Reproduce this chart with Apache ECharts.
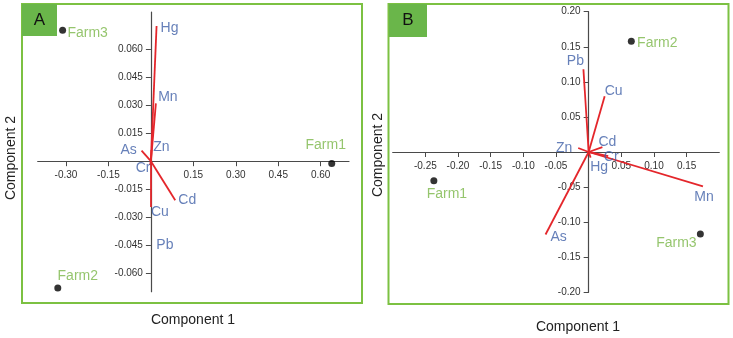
<!DOCTYPE html>
<html><head><meta charset="utf-8">
<script src="https://cdn.jsdelivr.net/npm/echarts@6/dist/echarts.min.js"></script>
<style>html,body{margin:0;padding:0;background:#fff}#c{width:733px;height:338px}</style>
</head><body><div id="c"></div>
<script>
// ---- Data ----
const farmNames = ['Farm1', 'Farm2', 'Farm3'];
// Panel A scores
const farmA_x = [0.639, -0.329, -0.312];
const farmA_y = [-0.0013, -0.068, 0.0702];
// Panel A loadings
const elemA = ['Hg', 'Mn', 'Zn', 'As', 'Cr', 'Cd', 'Cu', 'Pb'];
const loadA_x = [0.020, 0.0176, 0.002, -0.033, -0.003, 0.086, 0.000, 0.000];
const loadA_y = [0.0725, 0.031, 0.006, 0.0057, -0.002, -0.021, -0.0246, -0.001];
// Panel B scores
const farmB_x = [-0.237, 0.0653, 0.171];
const farmB_y = [-0.041, 0.158, -0.117];
// Panel B loadings
const elemB = ['Pb', 'Cu', 'Mn', 'As', 'Zn', 'Cd', 'Cr', 'Hg'];
const loadB_x = [-0.008, 0.0245, 0.175, -0.066, -0.016, 0.021, 0.030, 0.003];
const loadB_y = [0.118, 0.0796, -0.049, -0.1176, 0.0057, 0.007, -0.006, -0.008];
// Tick labels
const ticksA_x = [-0.30, -0.15, 0.15, 0.30, 0.45, 0.60];
const ticksA_y = [-0.060, -0.045, -0.030, -0.015, 0.015, 0.030, 0.045, 0.060];
const ticksB_x = [-0.25, -0.20, -0.15, -0.10, -0.05, 0.05, 0.10, 0.15];
const ticksB_y = [-0.20, -0.15, -0.10, -0.05, 0.05, 0.10, 0.15, 0.20];

// ---- Styles (label offsets in px) ----
const offA_elem = {Hg:[13,2], Mn:[12,-6], Zn:[10,-3], As:[-13,0], Cr:[-7,3], Cd:[12,0], Cu:[9,5], Pb:[14,82]};
const offA_farm = {Farm1:[-6,-18], Farm2:[20,-12], Farm3:[25,3]};
const offB_elem = {Pb:[-8,-8], Cu:[9,-5], Mn:[1,11], As:[13,3], Zn:[-14,0], Cd:[5,-4.5], Cr:[3,1], Hg:[8.5,10]};
const offB_farm = {Farm1:[13,13], Farm2:[26,2], Farm3:[-24,9]};

const RED = '#e4262b', BLUE = '#4060a8', GREEN = '#7ab648', AX = '#4a4a4a';
const FONT = 'Liberation Sans, Arial, sans-serif';

const grids = [
  {left: 37.7, top: 12, width: 311.3, height: 279.7},
  {left: 392.7, top: 11.7, width: 326.6, height: 280.6}
];
const ranges = [
  {xmin: -0.40, xmax: 0.70, ymin: -0.07, ymax: 0.08},
  {xmin: -0.30, xmax: 0.20, ymin: -0.20, ymax: 0.20}
];

function xAxis(gi, ticks, dec) {
  const r = ranges[gi], g = grids[gi];
  // move the bottom axis up to the y = 0 line
  const off = -g.height * (0 - r.ymin) / (r.ymax - r.ymin);
  return {
    type: 'value', gridIndex: gi, min: r.xmin, max: r.xmax, position: 'bottom', offset: off,
    axisLine: {onZero: false, lineStyle: {color: AX, width: 1.2}},
    axisTick: {show: true, length: 5, customValues: ticks, lineStyle: {color: AX}},
    axisLabel: {customValues: ticks, margin: 9, fontSize: 10, fontFamily: FONT, color: '#333',
      formatter: v => v.toFixed(dec)},
    splitLine: {show: false}
  };
}
function yAxis(gi, ticks, dec) {
  const r = ranges[gi], g = grids[gi];
  // move the left axis right to the x = 0 line
  const off = -g.width * (0 - r.xmin) / (r.xmax - r.xmin);
  return {
    type: 'value', gridIndex: gi, min: r.ymin, max: r.ymax, position: 'left', offset: off,
    axisLine: {onZero: false, lineStyle: {color: AX, width: 1.2}},
    axisTick: {show: true, length: 5, customValues: ticks, lineStyle: {color: AX}},
    axisLabel: {customValues: ticks, margin: 8, fontSize: 10, fontFamily: FONT, color: '#333',
      formatter: v => v.toFixed(dec)},
    splitLine: {show: false}
  };
}
function vectors(idx, names, xs, ys) {
  return {
    type: 'lines', coordinateSystem: 'cartesian2d', xAxisIndex: idx, yAxisIndex: idx,
    lineStyle: {color: RED, width: 1.8, opacity: 1}, z: 3, silent: true,
    data: names.map((n, i) => ({coords: [[0, 0], [xs[i], ys[i]]]}))
  };
}
function textPts(idx, names, xs, ys, offs, color) {
  return {
    type: 'scatter', xAxisIndex: idx, yAxisIndex: idx, symbolSize: 1, z: 5, silent: true,
    itemStyle: {color: 'rgba(0,0,0,0)'},
    data: names.map((n, i) => ({name: n, value: [xs[i], ys[i]],
      label: {show: true, formatter: n, position: 'inside', align: 'center', verticalAlign: 'middle',
        offset: offs[n], color: color, fontSize: 14, fontFamily: FONT}}))
  };
}
function farmPts(idx, xs, ys, offs) {
  return {
    type: 'scatter', xAxisIndex: idx, yAxisIndex: idx, symbol: 'circle', symbolSize: 7, z: 6, silent: true,
    itemStyle: {color: '#000'},
    data: farmNames.map((n, i) => ({name: n, value: [xs[i], ys[i]],
      label: {show: true, formatter: n, position: 'inside', align: 'center', verticalAlign: 'middle',
        offset: offs[n], color: GREEN, fontSize: 14, fontFamily: FONT}}))
  };
}

const chart = echarts.init(document.getElementById('c'), null, {renderer: 'canvas'});
chart.setOption({
  animation: false,
  backgroundColor: '#fff',
  grid: grids.map(g => Object.assign({containLabel: false}, g)),
  xAxis: [xAxis(0, ticksA_x, 2), xAxis(1, ticksB_x, 2)],
  yAxis: [yAxis(0, ticksA_y, 3), yAxis(1, ticksB_y, 2)],
  graphic: [
    {type: 'rect', shape: {x: 22, y: 4, width: 340, height: 299}, style: {fill: 'none', stroke: '#7cc142', lineWidth: 2}, z: 100},
    {type: 'rect', shape: {x: 388.5, y: 4, width: 340, height: 300}, style: {fill: 'none', stroke: '#7cc142', lineWidth: 2}, z: 100},
    {type: 'rect', shape: {x: 22, y: 4, width: 35, height: 32}, style: {fill: '#6ab64a'}, z: 101},
    {type: 'rect', shape: {x: 389, y: 4, width: 38, height: 33}, style: {fill: '#6ab64a'}, z: 101},
    {type: 'text', x: 39.5, y: 20, style: {text: 'A', fill: '#111', font: '17px ' + FONT, align: 'center', verticalAlign: 'middle'}, z: 102},
    {type: 'text', x: 408, y: 20.5, style: {text: 'B', fill: '#111', font: '17px ' + FONT, align: 'center', verticalAlign: 'middle'}, z: 102},
    {type: 'text', x: 193, y: 320, style: {text: 'Component 1', fill: '#222', font: '14px ' + FONT, align: 'center', verticalAlign: 'middle'}},
    {type: 'text', x: 578, y: 327, style: {text: 'Component 1', fill: '#222', font: '14px ' + FONT, align: 'center', verticalAlign: 'middle'}},
    {type: 'text', x: 11, y: 158, rotation: Math.PI / 2, style: {text: 'Component 2', fill: '#222', font: '14px ' + FONT, align: 'center', verticalAlign: 'middle'}},
    {type: 'text', x: 378, y: 155, rotation: Math.PI / 2, style: {text: 'Component 2', fill: '#222', font: '14px ' + FONT, align: 'center', verticalAlign: 'middle'}}
  ],
  series: [
    vectors(0, elemA, loadA_x, loadA_y),
    textPts(0, elemA, loadA_x, loadA_y, offA_elem, BLUE),
    farmPts(0, farmA_x, farmA_y, offA_farm),
    vectors(1, elemB, loadB_x, loadB_y),
    textPts(1, elemB, loadB_x, loadB_y, offB_elem, BLUE),
    farmPts(1, farmB_x, farmB_y, offB_farm)
  ]
});
</script></body></html>
